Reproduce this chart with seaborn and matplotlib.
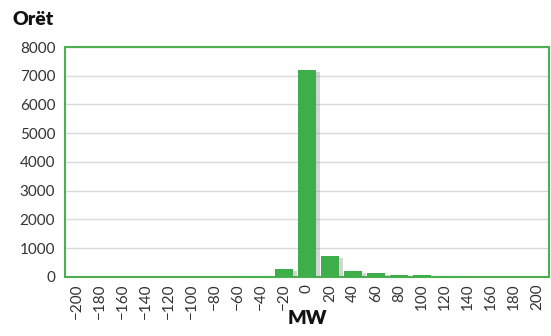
import matplotlib as mpl
import matplotlib.pyplot as plt
import matplotlib.patheffects as pe
import pandas as pd
import seaborn as sns

mpl.use("Agg")

# Histogram bins (MW) and counts of hours
bins = [-200, -180, -160, -140, -120, -100, -80, -60, -40, -20, 0,
        20, 40, 60, 80, 100, 120, 140, 160, 180, 200]
hours = [2, 2, 2, 2, 3, 3, 5, 10, 30, 280, 7200,
         730, 200, 130, 70, 50, 15, 5, 3, 2, 2]

GREEN = "#3dae49"

sns.set_theme(style="white")
plt.rcParams["font.family"] = ["Lato", "DejaVu Sans"]

df = pd.DataFrame({"bin": [str(b).replace("-", "\u2212") for b in bins],
                   "hours": hours})

fig = plt.figure(figsize=(5.51, 3.36), dpi=100)
ax = fig.add_axes([0.118, 0.176, 0.878, 0.684])
sns.barplot(data=df, x="bin", y="hours", color=GREEN, saturation=1,
            width=0.8, linewidth=0, ax=ax, zorder=3)
for p in ax.patches:
    p.set_path_effects([pe.SimplePatchShadow(offset=(2.5, -1.5), shadow_rgbFace="#777777",
                                             alpha=0.3), pe.Normal()])

ax.set_ylim(0, 8000)
ax.set_yticks(range(0, 8001, 1000))
ax.yaxis.grid(True, color="#d9d9d9", linewidth=1, zorder=0)
ax.set_axisbelow(True)
for s in ax.spines.values():
    s.set_color("#4caf50")
    s.set_linewidth(1.5)
ax.tick_params(axis="both", length=0, labelsize=11, colors="#333333", pad=7)
ax.tick_params(axis="x", rotation=90, pad=5)
ax.set_xlabel("MW", fontsize=14, fontweight="heavy", color="#111111", labelpad=-7)
ax.set_ylabel("")
fig.text(0.022, 0.925, "Orët", fontsize=14, fontweight="heavy", color="#111111")

fig.savefig("out.png", dpi=100)
